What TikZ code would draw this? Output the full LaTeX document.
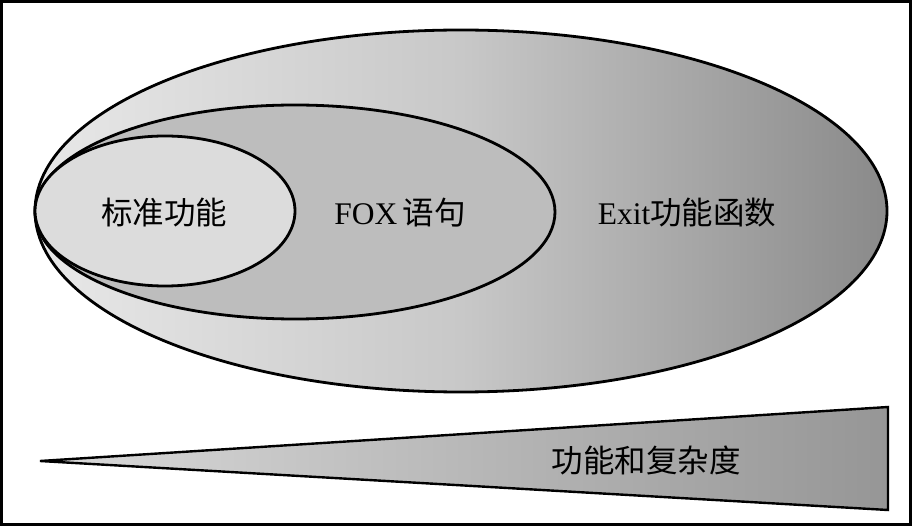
\documentclass[tikz,border=0pt]{standalone}
\usepackage{fontspec}
\setmainfont{Liberation Serif}
\newfontfamily\cjk{Noto Sans CJK SC}
\definecolor{outL}{RGB}{232,232,232}
\definecolor{outM}{RGB}{200,200,200}
\definecolor{outR}{RGB}{138,138,138}
\definecolor{midF}{RGB}{189,189,189}
\definecolor{innF}{RGB}{220,220,220}
\definecolor{triL}{RGB}{218,218,218}
\definecolor{triR}{RGB}{150,150,150}
\tikzset{
  shape line/.style={draw=black, line width=2.8pt},
  lbl/.style={font=\fontsize{31.5}{34}\selectfont, inner sep=0pt, text=black},
}
\begin{document}
\begin{tikzpicture}[x=1pt,y=-1pt]
\useasboundingbox (0,0) rectangle (912,526);
\draw[line width=3pt] (1.5,1.5) rectangle (910.5,524.5);
% outer ellipse
\path[shape line, left color=outL, right color=outR, middle color=outM] (461,211) ellipse [x radius=426, y radius=181];
% middle ellipse
\path[shape line, fill=midF] (295,212) ellipse [x radius=260, y radius=107];
% inner ellipse
\path[shape line, fill=innF] (165,211) ellipse [x radius=130, y radius=75];
% triangle
\coordinate (tip) at (40,461);
\coordinate (tr) at (888,407);
\coordinate (br) at (888,510);
\path[draw=black, line width=2.4pt, line join=miter, left color=triL, right color=triR] (tip) -- (tr) -- (br) -- cycle;
% labels
\node[lbl] (std) at (164,213) {\cjk 标准功能};
\node[lbl] (fox) at (400,213) {FOX\,{\cjk 语句}};
\node[lbl] (exit) at (687,213) {Exit{\cjk 功能函数}};
\node[lbl] (cx) at (646,460) {\cjk 功能和复杂度};
\end{tikzpicture}
\end{document}
